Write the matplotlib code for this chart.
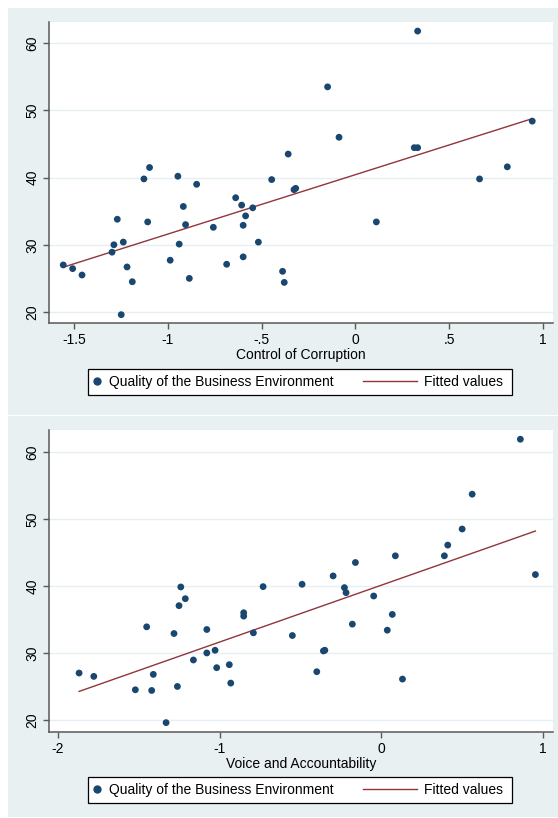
import numpy as np
import matplotlib
matplotlib.use("Agg")
import matplotlib.pyplot as plt
from matplotlib.patches import Rectangle
from matplotlib.lines import Line2D

plt.rcParams['font.family'] = ['Liberation Sans', 'DejaVu Sans']

# Quality of the Business Environment vs. Control of Corruption
corruption = [-1.557, -1.507, -1.457, -1.297, -1.287, -1.269, -1.237, -1.217, -1.189,
              -1.248, -1.127, -1.097, -1.107, -0.987, -0.946, -0.939, -0.917, -0.905,
              -0.885, -0.846, -0.757, -0.686, -0.638, -0.606, -0.598, -0.585, -0.598,
              -0.547, -0.517, -0.446, -0.358, -0.388, -0.379, -0.327, -0.318, -0.148,
              -0.087, 0.112, 0.314, 0.332, 0.332, 0.662, 0.810, 0.943]
business_top = [27.0, 26.45, 25.5, 28.9, 30.0, 33.8, 30.4, 26.7, 24.5,
                19.6, 39.8, 41.5, 33.4, 27.7, 40.2, 30.1, 35.7, 33.0,
                25.0, 39.0, 32.6, 27.1, 37.0, 35.9, 32.9, 34.3, 28.2,
                35.5, 30.4, 39.7, 43.5, 26.05, 24.4, 38.2, 38.4, 53.5,
                46.0, 33.4, 44.45, 44.45, 61.8, 39.8, 41.6, 48.4]

# Quality of the Business Environment vs. Voice and Accountability
voice = [-1.870, -1.779, -1.522, -1.421, -1.411, -1.452, -1.332, -1.283, -1.262,
         -1.252, -1.241, -1.213, -1.163, -1.080, -1.080, -1.029, -1.019, -0.941,
         -0.932, -0.852, -0.852, -0.792, -0.732, -0.551, -0.491, -0.400, -0.359,
         -0.350, -0.299, -0.229, -0.219, -0.180, -0.161, -0.048, 0.036, 0.067,
         0.086, 0.130, 0.389, 0.410, 0.499, 0.561, 0.859, 0.952]
business_bottom = [27.0, 26.5, 24.5, 24.4, 26.8, 33.9, 19.6, 32.9, 25.0,
                   37.06, 39.85, 38.1, 28.95, 33.5, 30.0, 30.4, 27.8, 28.25,
                   25.5, 36.0, 35.5, 33.0, 39.9, 32.6, 40.25, 27.2, 30.3,
                   30.4, 41.5, 39.75, 39.0, 34.3, 43.5, 38.5, 33.4, 35.75,
                   44.5, 26.1, 44.5, 46.1, 48.5, 53.7, 61.9, 41.7]

top_xticks = [-1.5, -1.0, -0.5, 0.0, 0.5, 1.0]
top_xticklabels = ["-1.5", "-1", "-.5", "0", ".5", "1"]
bottom_xticks = [-2, -1, 0, 1]
bottom_xticklabels = ["-2", "-1", "0", "1"]
yticks = [20, 30, 40, 50, 60]

scatter_label = "Quality of the Business Environment"
fit_label = "Fitted values"

W, H = 558, 818
PANEL = "#e8f0f2"
NAVY = "#1a476f"
MAROON = "#90353b"
AXIS = "#595959"

fig = plt.figure(figsize=(W / 100, H / 100), dpi=100)
fig.patch.set_facecolor("white")


def fx(px):
    return px / W


def fy(py):
    return 1 - py / H


def panel(y0, y1, ax_top, ax_bot, x, y, xticks, xticklabels, xlim, ylim, xlabel, leg_y0, leg_y1):
    fig.add_artist(Rectangle((fx(8), fy(y1)), fx(W) - fx(8), fy(y0) - fy(y1),
                             transform=fig.transFigure, facecolor=PANEL,
                             edgecolor="none", zorder=0))
    ax = fig.add_axes([fx(49), fy(ax_bot), fx(552.7) - fx(49), fy(ax_top) - fy(ax_bot)])
    ax.set_facecolor("white")
    ax.set_xlim(*xlim)
    ax.set_ylim(*ylim)
    for yt in yticks:
        ax.axhline(yt, color="#e6eff2", lw=1.0, zorder=1)
    ax.scatter(x, y, s=24, color=NAVY, edgecolors="none", zorder=3)
    xa = np.asarray(x)
    slope, intercept = np.polyfit(xa, np.asarray(y), 1)
    xs = np.array([xa.min(), xa.max()])
    ax.plot(xs, intercept + slope * xs, color=MAROON, lw=1.0, zorder=2)

    for s in ("top", "right"):
        ax.spines[s].set_visible(False)
    for s in ("left", "bottom"):
        ax.spines[s].set_color(AXIS)
        ax.spines[s].set_linewidth(1.1)
    ax.set_xticks(xticks)
    ax.set_xticklabels(xticklabels)
    ax.set_yticks(yticks)
    ax.set_yticklabels([str(v) for v in yticks], rotation=90, va="center")
    ax.tick_params(axis="both", direction="out", length=4, width=1.0,
                   color=AXIS, labelsize=10, labelcolor="black", pad=3)
    ax.set_xlabel(xlabel, fontsize=10, labelpad=1)

    # legend frame and entries
    fig.add_artist(Rectangle((fx(88), fy(leg_y1)), fx(512) - fx(88), fy(leg_y0) - fy(leg_y1),
                             transform=fig.transFigure, facecolor="white",
                             edgecolor="black", lw=0.9, zorder=5))
    yc = fy((leg_y0 + leg_y1) / 2)
    h1 = Line2D([], [], marker="o", ls="none", color=NAVY, markersize=5)
    h2 = Line2D([], [], color=MAROON, lw=1.0)
    l1 = fig.legend([h1], [scatter_label], loc="center left", bbox_to_anchor=(fx(92), yc),
                    frameon=False, handlelength=0.7, handletextpad=0.5, borderpad=0,
                    borderaxespad=0, fontsize=10)
    l2 = fig.legend([h2], [fit_label], loc="center left", bbox_to_anchor=(fx(363), yc),
                    frameon=False, handlelength=3.9, handletextpad=0.5, borderpad=0,
                    borderaxespad=0, fontsize=10)
    l1.set_zorder(6)
    l2.set_zorder(6)
    return ax


panel(8, 414.5, 22, 323, corruption, business_top, top_xticks, top_xticklabels,
      (-1.633, 1.052), (18.36, 63.15), "Control of Corruption", 369, 395)
panel(415.8, 816.7, 430, 732, voice, business_bottom, bottom_xticks, bottom_xticklabels,
      (-2.056, 1.059), (18.2, 63.28), "Voice and Accountability", 777, 803)

fig.savefig("out.png", dpi=100, facecolor="white")
